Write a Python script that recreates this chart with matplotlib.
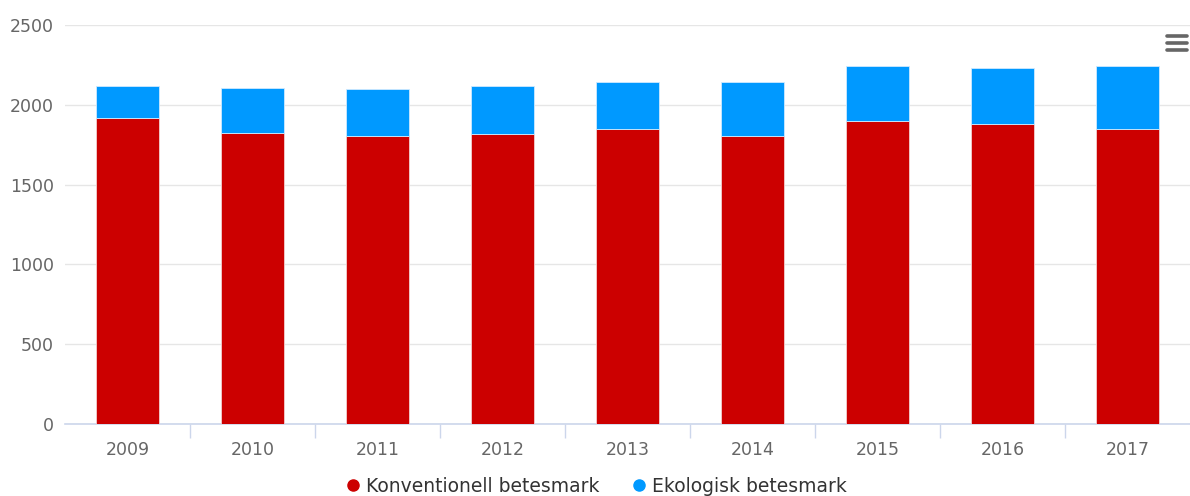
import matplotlib.pyplot as plt
from matplotlib.lines import Line2D

years = ['2009', '2010', '2011', '2012', '2013', '2014', '2015', '2016', '2017']
konventionell = [1914, 1820, 1803, 1814, 1849, 1803, 1895, 1876, 1849]
ekologisk = [200, 283, 292, 300, 292, 338, 348, 356, 394]

red = '#cc0000'
blue = '#0099ff'
grey = '#666666'

fig = plt.figure(figsize=(11.9, 4.96), dpi=100)
ax = fig.add_axes([0.0546, 0.145, 0.9454, 0.805])

x = list(range(len(years)))
ax.bar(x, konventionell, width=0.5, color=red, edgecolor='#f2d0d0', linewidth=0.6, zorder=3)
ax.bar(x, ekologisk, bottom=konventionell, width=0.5, color=blue, edgecolor='#cfeaff', linewidth=0.6, zorder=3)

ax.set_xlim(-0.5, len(years) - 0.5)
ax.set_ylim(0, 2500)
ax.set_yticks([0, 500, 1000, 1500, 2000, 2500])
ax.yaxis.grid(True, color='#e6e6e6', linewidth=1, zorder=0)
ax.tick_params(axis='y', length=0, labelsize=12.5, labelcolor=grey, pad=8)

ax.set_xticks(x)
ax.set_xticklabels(years)
ax.tick_params(axis='x', length=0, labelsize=12.5, labelcolor=grey, pad=12)
# category boundary ticks
ax.set_xticks([i + 0.5 for i in x[:-1]], minor=True)
ax.tick_params(axis='x', which='minor', length=10, color='#ccd6eb', width=1)

for s in ['top', 'right', 'left']:
    ax.spines[s].set_visible(False)
ax.spines['bottom'].set_color('#ccd6eb')
ax.spines['bottom'].set_linewidth(1.2)

handles = [
    Line2D([], [], marker='o', linestyle='', color=red, markersize=8),
    Line2D([], [], marker='o', linestyle='', color=blue, markersize=8),
]
fig.legend(handles, ['Konventionell betesmark', 'Ekologisk betesmark'],
           loc='center', bbox_to_anchor=(0.5, 0.02), ncol=2, frameon=False,
           fontsize=13.5, handletextpad=0.2, columnspacing=1.6, labelcolor='#333333',
           handlelength=1.0)

# menu icon
for yy in [0.928, 0.913, 0.899]:
    fig.add_artist(Line2D([0.9805, 0.9975], [yy, yy], color='#666666', linewidth=2.6,
                          solid_capstyle='round', transform=fig.transFigure))

fig.savefig('out.png', dpi=100)
